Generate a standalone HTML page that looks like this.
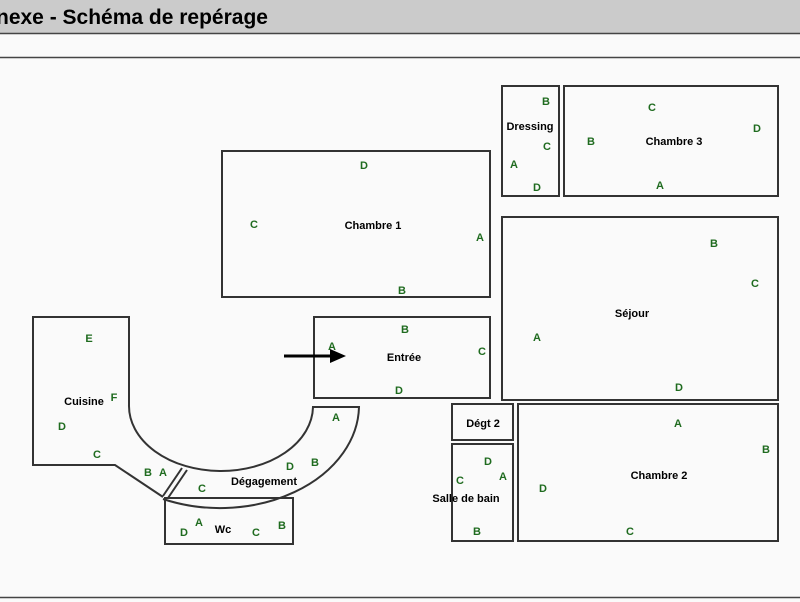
<!DOCTYPE html>
<html><head><meta charset="utf-8"><style>
html,body{margin:0;padding:0;background:#fafafa;}
svg{display:block}
text{font-family:"Liberation Sans",sans-serif;font-weight:bold;}
.g{fill:#1f6b1f;font-size:11px;text-anchor:middle}
.n{fill:#000;font-size:11px;text-anchor:middle}
</style></head><body>
<svg width="800" height="602" viewBox="0 0 800 602">
<rect x="0" y="0" width="800" height="33" fill="#cbcbcb"/>
<line x1="0" y1="33.5" x2="800" y2="33.5" stroke="#444" stroke-width="1.5"/>
<text x="-4" y="24" font-size="21" fill="#000" style="font-weight:bold">nexe - Schéma de repérage</text>
<line x1="0" y1="57.5" x2="800" y2="57.5" stroke="#444" stroke-width="1.5"/>
<line x1="0" y1="597.5" x2="800" y2="597.5" stroke="#444" stroke-width="1.5"/>
<g fill="none" stroke="#333" stroke-width="2">
<rect x="222" y="151" width="268" height="146"/>
<rect x="314" y="317" width="176" height="81"/>
<rect x="502" y="86" width="57" height="110"/>
<rect x="564" y="86" width="214" height="110"/>
<rect x="502" y="217" width="276" height="183"/>
<rect x="452" y="404" width="61" height="36"/>
<rect x="452" y="444" width="61" height="97"/>
<rect x="518" y="404" width="260" height="137"/>
<rect x="165" y="498" width="128" height="46"/>
<path d="M129,405 L129,317 L33,317 L33,465 L115,465 L163,497"/>
<path d="M129,405 A92,65 0 0 0 313,407 L359,407 A139,103 0 0 1 163,499"/>
<line x1="163" y1="496" x2="182" y2="468"/>
<line x1="168" y1="498" x2="187" y2="470"/>
</g>
<line x1="284" y1="356" x2="332" y2="356" stroke="#000" stroke-width="3"/>
<polygon points="330,349 346,356 330,363" fill="#000"/>
<g class="n">
<text x="373" y="229">Chambre 1</text>
<text x="404" y="361">Entrée</text>
<text x="530" y="130">Dressing</text>
<text x="674" y="145">Chambre 3</text>
<text x="632" y="317">Séjour</text>
<text x="483" y="427">Dégt 2</text>
<text x="466" y="502">Salle de bain</text>
<text x="659" y="479">Chambre 2</text>
<text x="84" y="405">Cuisine</text>
<text x="264" y="485">Dégagement</text>
<text x="223" y="533">Wc</text>
</g>
<g class="g">
<text x="364" y="169">D</text><text x="254" y="228">C</text><text x="480" y="241">A</text><text x="402" y="294">B</text>
<text x="405" y="333">B</text><text x="332" y="350">A</text><text x="482" y="355">C</text><text x="399" y="394">D</text>
<text x="546" y="105">B</text><text x="547" y="150">C</text><text x="514" y="168">A</text><text x="537" y="191">D</text>
<text x="652" y="111">C</text><text x="757" y="132">D</text><text x="591" y="145">B</text><text x="660" y="189">A</text>
<text x="714" y="247">B</text><text x="755" y="287">C</text><text x="537" y="341">A</text><text x="679" y="391">D</text>
<text x="678" y="427">A</text><text x="766" y="453">B</text><text x="543" y="492">D</text><text x="630" y="535">C</text>
<text x="488" y="465">D</text><text x="460" y="484">C</text><text x="503" y="480">A</text><text x="477" y="535">B</text>
<text x="89" y="342">E</text><text x="114" y="401">F</text><text x="62" y="430">D</text><text x="97" y="458">C</text>
<text x="148" y="476">B</text><text x="163" y="476">A</text><text x="336" y="421">A</text><text x="290" y="470">D</text>
<text x="315" y="466">B</text><text x="202" y="492">C</text>
<text x="184" y="536">D</text><text x="199" y="526">A</text><text x="256" y="536">C</text><text x="282" y="529">B</text>
</g>
</svg>
</body></html>
